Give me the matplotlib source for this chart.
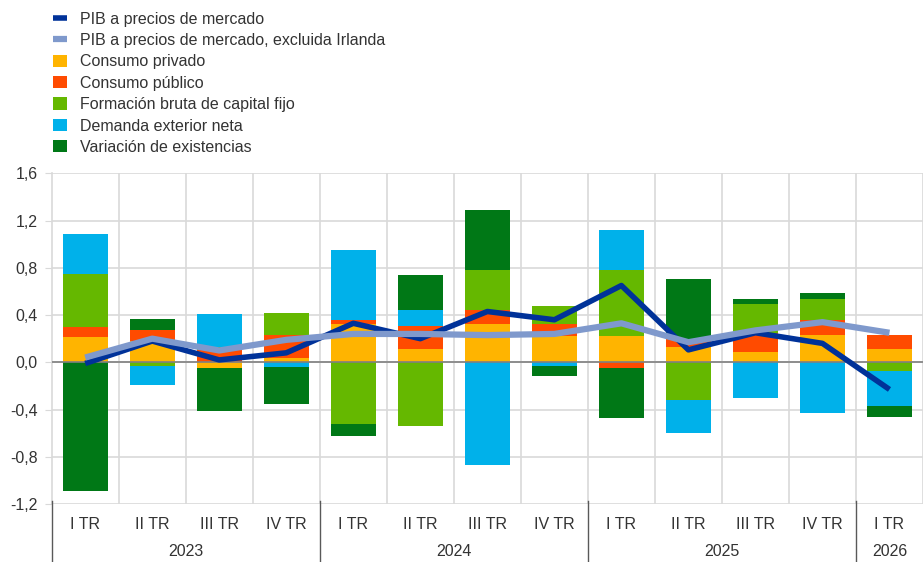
import numpy as np
import matplotlib
matplotlib.use("Agg")
import matplotlib.pyplot as plt
from matplotlib.transforms import blended_transform_factory

plt.rcParams['font.family'] = ['Liberation Sans', 'DejaVu Sans']

quarters = ['I TR', 'II TR', 'III TR', 'IV TR'] * 3 + ['I TR']
years = ['2023', '2024', '2025', '2026']
year_span = [(0, 3), (4, 7), (8, 11), (12, 12)]

# contributions, percentage points
priv = [0.21, 0.18, -0.05, 0.04, 0.32, 0.11, 0.32, 0.22, 0.22, 0.13, 0.09, 0.23, 0.11]
pub = [0.09, 0.09, 0.10, 0.19, 0.04, 0.195, 0.12, 0.10, -0.05, 0.065, 0.16, 0.13, 0.12]
fbcf = [0.45, -0.03, 0.03, 0.19, -0.52, -0.54, 0.34, 0.16, 0.56, -0.32, 0.24, 0.175, -0.07]
ext = [0.34, -0.16, 0.28, -0.04, 0.59, 0.14, -0.87, -0.03, 0.34, -0.28, -0.30, -0.43, -0.30]
exist = [-1.09, 0.10, -0.36, -0.31, -0.10, 0.29, 0.51, -0.09, -0.42, 0.51, 0.05, 0.055, -0.09]

gdp = [-0.01, 0.18, 0.02, 0.08, 0.33, 0.20, 0.43, 0.36, 0.65, 0.105, 0.25, 0.16, -0.23]
gdp_ex_ie = [0.04, 0.20, 0.10, 0.19, 0.24, 0.24, 0.23, 0.24, 0.33, 0.17, 0.27, 0.34, 0.25]

components = [
    (priv, 'Consumo privado', '#ffb400'),
    (pub, 'Consumo público', '#ff4b00'),
    (fbcf, 'Formación bruta de capital fijo', '#65b800'),
    (ext, 'Demanda exterior neta', '#00b1ea'),
    (exist, 'Variación de existencias', '#007816'),
]

txt = '#333333'
grid_c = '#d9d9d9'

fig = plt.figure(figsize=(9.23, 5.62), dpi=100)
ax = fig.add_axes([0.056, 0.1032, 0.944, 0.5884])

x = np.arange(len(quarters))
pos_bottom = np.zeros(len(x))
neg_bottom = np.zeros(len(x))
bar_handles = []
for vals, label, color in components:
    v = np.array(vals)
    bottom = np.where(v >= 0, pos_bottom, neg_bottom)
    b = ax.bar(x, v, 0.67, bottom=bottom, color=color, label=label, zorder=2)
    bar_handles.append(b)
    pos_bottom = pos_bottom + np.where(v >= 0, v, 0)
    neg_bottom = neg_bottom + np.where(v < 0, v, 0)

l1, = ax.plot(x, gdp, color='#003299', lw=4, zorder=4, solid_capstyle='butt',
              label='PIB a precios de mercado')
l2, = ax.plot(x, gdp_ex_ie, color='#7f99cc', lw=4.5, zorder=5, solid_capstyle='butt',
              label='PIB a precios de mercado, excluida Irlanda')

ax.axhline(0, color='#808080', lw=1.2, zorder=3)

ax.set_ylim(-1.2, 1.6)
ax.set_xlim(-0.5, 12.5)
yt = np.arange(-1.2, 1.61, 0.4)
ax.set_yticks(yt)
ax.set_yticklabels([f'{t:.1f}'.replace('.', ',') for t in yt], fontsize=11.5, color=txt)
ax.tick_params(axis='y', length=5, color=grid_c, pad=5)
ax.yaxis.grid(True, color=grid_c, lw=1.2, zorder=0)
ax.set_xticks(x + 0.5, minor=True)
ax.xaxis.grid(True, which='minor', color=grid_c, lw=1.2, zorder=0)
ax.set_xticks(x)
ax.set_xticklabels(quarters, fontsize=11.5, color=txt)
ax.tick_params(axis='x', which='both', length=0, pad=9)
ax.set_axisbelow(True)
for s in ['top', 'right', 'bottom']:
    ax.spines[s].set_visible(False)
ax.spines['left'].set_color(grid_c)
ax.spines['left'].set_linewidth(1.2)

trans = blended_transform_factory(ax.transData, ax.transAxes)
for (a, b_), yr in zip(year_span, years):
    ax.text((a + b_) / 2, -0.143, yr, transform=trans, ha='center', va='center',
            fontsize=11.5, color=txt)
for sep in [-0.5, 3.5, 7.5, 11.5]:
    ax.plot([sep, sep], [0.008, -0.18], transform=trans, color='#595959', lw=1,
            clip_on=False, zorder=6)

handles = [l1, l2] + bar_handles
labels = [h.get_label() for h in handles]
fig.legend(handles, labels, loc='upper left', bbox_to_anchor=(0.042, 1.005),
           frameon=False, fontsize=11.5, handlelength=0.85, handleheight=0.8,
           handletextpad=0.85, labelspacing=0.40, labelcolor=txt)

fig.savefig('out.png', dpi=100)
